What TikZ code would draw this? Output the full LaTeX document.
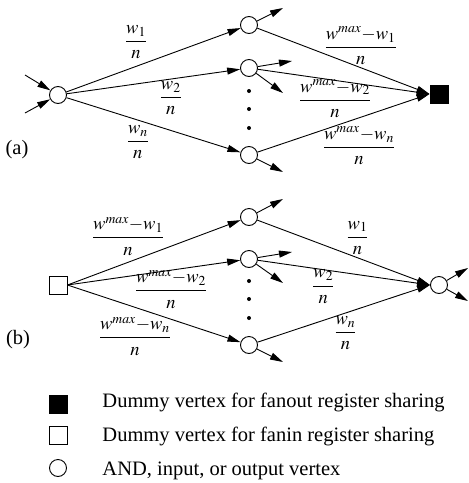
\documentclass[tikz,border=0pt]{standalone}
\usepackage{amsmath}
\usepackage{mathptmx}
\usepackage[no-math]{fontspec}
\setmainfont{Liberation Serif}
\usepackage{tikz}
\usetikzlibrary{arrows.meta}

\begin{document}
\begin{tikzpicture}[->,>={Triangle[length=13pt,width=7pt]},x=1pt,y=-1pt,
                    line width=0.9pt]
  \tikzstyle{vertex}=[circle,draw=black,fill=white,minimum size=17pt,inner sep=0pt]
  \tikzstyle{fanout}=[rectangle,draw=black,fill=black,minimum size=18pt,inner sep=0pt]
  \tikzstyle{fanin}=[rectangle,draw=black,fill=white,minimum size=18pt,inner sep=0pt]
  \tikzstyle{dot}=[circle,fill=black,minimum size=4pt,inner sep=0pt]
  \tikzstyle{weight}=[font=\fontsize{18.5}{20}\selectfont,inner sep=0pt,anchor=center]
  \tikzstyle{legend}=[font=\fontsize{20.5}{24}\selectfont,inner sep=0pt]

  \useasboundingbox (0,0) rectangle (469,483);

  % (a)
  \node[vertex] (a0)     at (58,95)   {};
  \node[vertex] (a1)     at (249,25)  {};
  \node[vertex] (a2)     at (249,68)  {};
  \node[vertex] (an)     at (249,155) {};
  \node[fanout] (fo)     at (439,94)  {};
  \node[dot]    (adot1)  at (249,91)  {};
  \node[dot]    (adot2)  at (249,109) {};
  \node[dot]    (adot3)  at (249,128) {};
  \node[legend] (la)     at (17,150)  {(a)};
  \coordinate (ain1) at (25,75);
  \coordinate (ain2) at (25,113);
  \coordinate (a1out) at (283,8);
  \coordinate (a2out1) at (292,61);
  \coordinate (a2out2) at (283,93);
  \coordinate (anout) at (283,172);

  \path (ain1) edge (a0)
(ain2) edge (a0)
(a0) edge     node[weight,pos=.40,yshift=24pt]  {$\dfrac{w_1}{n}$} (a1)
(a0) edge     node[weight,pos=.60,yshift=-19pt] {$\dfrac{w_2}{n}$} (a2)
(a0) edge     node[weight,pos=.41,yshift=-22pt] {$\dfrac{w_n}{n}$} (an)
(a1) edge     node[weight,pos=.60,yshift=22pt]  {$\dfrac{w^{max}{-}w_1}{n}$} (fo.west)
(a2) edge     node[weight,pos=.45,yshift=-18pt] {$\dfrac{w^{max}{-}w_2}{n}$} (fo.west)
(an) edge     node[weight,pos=.59,yshift=-28pt] {$\dfrac{w^{max}{-}w_n}{n}$} (fo.west)
(a1) edge (a1out)
(a2) edge (a2out1)
(a2) edge (a2out2)
(an) edge (anout);

  % (b)
  \node[fanin]  (fi)     at (58,285)  {};
  \node[vertex] (b1)     at (249,217) {};
  \node[vertex] (b2)     at (249,259) {};
  \node[vertex] (bn)     at (249,345) {};
  \node[vertex] (b0)     at (439,285) {};
  \node[dot]    (bdot1)  at (249,281) {};
  \node[dot]    (bdot2)  at (249,299) {};
  \node[dot]    (bdot3)  at (249,318) {};
  \node[legend] (lb)     at (18,340)  {(b)};
  \coordinate (b1out) at (283,199);
  \coordinate (b2out1) at (292,252);
  \coordinate (b2out2) at (283,283);
  \coordinate (bnout) at (283,362);
  \coordinate (bout1) at (468,268);
  \coordinate (bout2) at (468,301);

  \path (fi.east) edge node[weight,pos=.35,yshift=26pt]  {$\dfrac{w^{max}{-}w_1}{n}$} (b1)
(fi.east) edge      node[weight,pos=.60,yshift=-19pt] {$\dfrac{w^{max}{-}w_2}{n}$} (b2)
(fi.east) edge      node[weight,pos=.39,yshift=-29pt] {$\dfrac{w^{max}{-}w_n}{n}$} (bn)
(b1) edge           node[weight,pos=.58,yshift=20pt]  {$\dfrac{w_1}{n}$} (b0.west)
(b2) edge           node[weight,pos=.38,yshift=-17pt] {$\dfrac{w_2}{n}$} (b0.west)
(bn) edge           node[weight,pos=.51,yshift=-20pt] {$\dfrac{w_n}{n}$} (b0.west)
(b1) edge (b1out)
(b2) edge (b2out1)
(b2) edge (b2out2)
(bn) edge (bnout)
(b0) edge (bout1)
(b0) edge (bout2);

  % legend
  \node[fanout] (kfo)  at (58,404) {};
  \node[fanin]  (kfi)  at (58,435) {};
  \node[vertex] (kv)   at (58,468) {};
  \node[legend,anchor=base west] (tfo) at (102,407) {Dummy vertex for fanout register sharing};
  \node[legend,anchor=base west] (tfi) at (102,441) {Dummy vertex for fanin register sharing};
  \node[legend,anchor=base west] (tv)  at (102,475) {AND, input, or output vertex};
\end{tikzpicture}
\end{document}
